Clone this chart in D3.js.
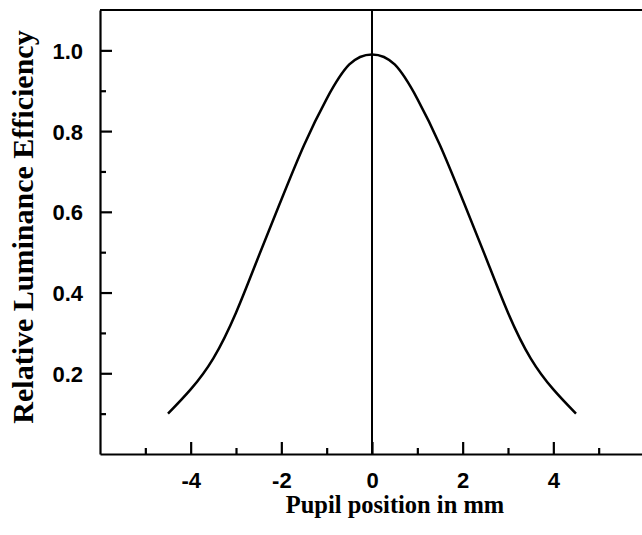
<!DOCTYPE html>
<html>
<head>
<meta charset="utf-8">
<script src="https://cdn.jsdelivr.net/npm/d3@7"></script>
<style>
    body { margin: 0; background: #fff; }
    .tick text { font-family: "Liberation Sans", Arial, sans-serif; font-weight: bold; font-size: 22px; fill: #000; }
    .title { font-family: "Liberation Serif", "Times New Roman", serif; font-weight: bold; fill: #000; }
</style>
</head>
<body>
<svg id="chart"></svg>
<script>
// pupil position (mm) and relative luminance efficiency
const positions = [-4.5, -4, -3.5, -3, -2.5, -2, -1.5, -1, -0.5, 0, 0.5, 1, 1.5, 2, 2.5, 3, 3.5, 4, 4.5];
const efficiency = [0.10, 0.16, 0.237, 0.35, 0.49, 0.63, 0.765, 0.88, 0.965, 0.99, 0.965, 0.88, 0.765, 0.63, 0.49, 0.35, 0.237, 0.16, 0.10];
const xMajorTicks = [-4, -2, 0, 2, 4];
const xMinorTicks = [-5, -3, -1, 1, 3, 5];
const yMajorTicks = [0.2, 0.4, 0.6, 0.8, 1.0];
const yMinorTicks = [0.1, 0.3, 0.5, 0.7, 0.9];

class LuminanceChart {
    constructor() {
        this.width = 642;
        this.height = 535;
        this.margin = {top: 10, right: -2, bottom: 81, left: 100};
        this.svg = d3.select('#chart')
            .attr('width', this.width)
            .attr('height', this.height);
        this.draw();
    }
    draw() {
        const m = this.margin;
        const innerW = this.width - m.left - m.right;
        const innerH = this.height - m.top - m.bottom;
        const xScale = d3.scaleLinear().domain([-6, 6]).range([0, innerW]);
        const yScale = d3.scaleLinear().domain([0, 1.1]).range([innerH, 0]);
        const g = this.svg.append('g')
            .attr('transform', `translate(${m.left}, ${m.top})`);

        // minor ticks
        g.append('g')
            .attr('transform', `translate(0, ${innerH})`)
            .call(d3.axisBottom(xScale).tickValues(xMinorTicks).tickSize(-6).tickFormat(''))
            .call(a => a.select('.domain').remove());
        g.append('g')
            .call(d3.axisLeft(yScale).tickValues(yMinorTicks).tickSize(-6).tickFormat(''))
            .call(a => a.select('.domain').remove());

        // major axes
        g.append('g')
            .attr('transform', `translate(0, ${innerH})`)
            .call(d3.axisBottom(xScale).tickValues(xMajorTicks).tickSizeInner(-12).tickSizeOuter(0).tickPadding(18).tickFormat(d => String(d)));
        const yAxis = g.append('g')
            .call(d3.axisLeft(yScale).tickValues(yMajorTicks).tickSizeInner(-12).tickSizeOuter(0).tickPadding(17).tickFormat(d3.format('.1f')));
        g.selectAll('.domain, .tick line')
            .attr('stroke', '#000')
            .attr('stroke-width', 2.2);
        yAxis.selectAll('.tick text').attr('dy', '0.36em');

        // top frame line
        g.append('line')
            .attr('x1', 0).attr('x2', innerW)
            .attr('y1', 0).attr('y2', 0)
            .attr('stroke', '#000')
            .attr('stroke-width', 2.2);

        // vertical line at zero
        g.append('line')
            .attr('x1', xScale(0)).attr('x2', xScale(0))
            .attr('y1', 0).attr('y2', innerH)
            .attr('stroke', '#000')
            .attr('stroke-width', 2);

        const data = positions.map((p, i) => ({x: p, y: efficiency[i]}));
        const line = d3.line()
            .x(d => xScale(d.x))
            .y(d => yScale(d.y))
            .curve(d3.curveNatural);
        g.append('path')
            .datum(data)
            .attr('fill', 'none')
            .attr('stroke', '#000')
            .attr('stroke-width', 2.5)
            .attr('d', line);

        this.svg.append('text')
            .attr('class', 'title')
            .attr('x', 395)
            .attr('y', 513)
            .attr('text-anchor', 'middle')
            .style('font-size', '24.5px')
            .text('Pupil position in mm');
        this.svg.append('text')
            .attr('class', 'title')
            .attr('transform', 'translate(33, 227) rotate(-90)')
            .attr('text-anchor', 'middle')
            .style('font-size', '30px')
            .text('Relative Luminance Efficiency');
    }
}

document.body.onload = () => {
    new LuminanceChart();
};
</script>
</body>
</html>
